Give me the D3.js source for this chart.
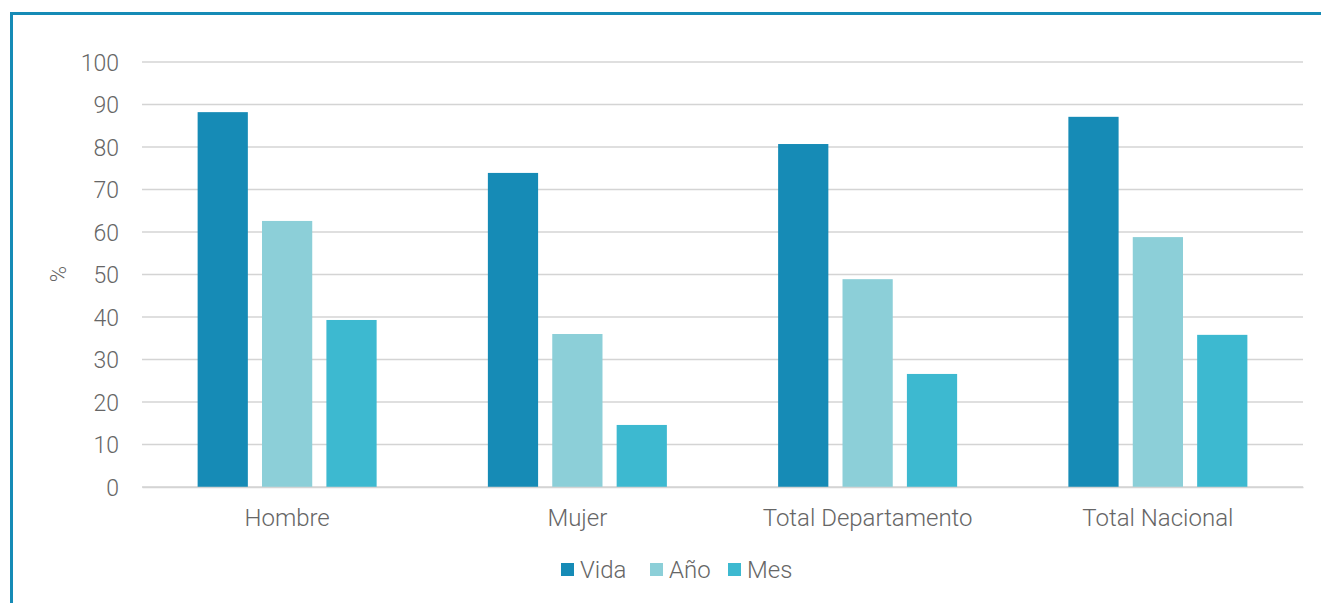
<!DOCTYPE html>
<html><head><meta charset="utf-8">
<script src="https://cdn.jsdelivr.net/npm/d3@7"></script>
<style>
html,body{margin:0;padding:0;background:#fff;}
text{font-family:Roboto,sans-serif;font-weight:300;fill:#666;}
</style></head>
<body>
<svg id="chart" width="1321" height="603"></svg>
<script>
const categories = ["Hombre", "Mujer", "Total Departamento", "Total Nacional"];
const seriesNames = ["Vida", "Año", "Mes"];
const vida = [88.2, 73.9, 80.7, 87.1];
const anio = [62.6, 36.0, 48.9, 58.8];
const mes = [39.3, 14.6, 26.6, 35.8];
const yTicks = [0, 10, 20, 30, 40, 50, 60, 70, 80, 90, 100];
const colors = ["#168bb6", "#8ccfd8", "#3db9d0"];
const seriesValues = [vida, anio, mes];

const svg = d3.select("#chart");
// frame
svg.append("path").attr("d", "M11.5,603 V13.5 H1321")
  .attr("fill", "none").attr("stroke", "#168bb6").attr("stroke-width", 3);

const pLeft = 142, pRight = 1303, pTop = 62, pBottom = 487;
const x = d3.scaleBand().domain(categories).range([pLeft, pRight]);
const y = d3.scaleLinear().domain([0, 100]).range([pBottom, pTop]);
const xs = d3.scaleBand().domain(seriesNames).range([-89.5, 89.5]).paddingInner(0.22);

// grid
svg.append("g").selectAll("line").data(yTicks).join("line")
  .attr("x1", pLeft).attr("x2", pRight)
  .attr("y1", d => y(d)).attr("y2", d => y(d))
  .attr("stroke", "#d4d4d4").attr("stroke-width", 1.5);

// y axis
const ya = svg.append("g").attr("transform", `translate(${pLeft},0)`)
  .call(d3.axisLeft(y).tickValues(yTicks).tickSize(0).tickPadding(23));
ya.select(".domain").remove();
ya.selectAll("text").attr("font-size", 23).attr("dy", "0.35em").style("font-family","Roboto").style("font-weight",300).attr("fill","#666");

// bars
const groups = svg.append("g").selectAll("g").data(categories).join("g")
  .attr("transform", d => `translate(${x(d) + x.bandwidth()/2},0)`);
groups.selectAll("rect").data((c, i) => seriesNames.map((s, j) => ({s, v: seriesValues[j][i], j})))
  .join("rect")
  .attr("x", d => xs(d.s)).attr("width", xs.bandwidth())
  .attr("y", d => y(d.v)).attr("height", d => y(0) - y(d.v))
  .attr("fill", d => colors[d.j]);

// x axis
const xa = svg.append("g").attr("transform", `translate(0,${pBottom})`)
  .call(d3.axisBottom(x).tickSize(0).tickPadding(22));
xa.select(".domain").attr("stroke", "#d4d4d4").attr("stroke-width", 1.5);
xa.selectAll("text").attr("font-size", 24).style("font-family","Roboto").style("font-weight",300).attr("fill","#666");

// y label
svg.append("text").attr("transform", "translate(66,274) rotate(-90)")
  .attr("text-anchor", "middle").attr("font-size", 22).text("%");

// legend
const legX = [561, 650, 728];
const leg = svg.append("g").selectAll("g").data(seriesNames).join("g")
  .attr("transform", (d, i) => `translate(${legX[i]},0)`);
leg.append("rect").attr("x", 0).attr("y", 563).attr("width", 13).attr("height", 13)
  .attr("fill", (d, i) => colors[i]);
leg.append("text").attr("x", 19).attr("y", 578).attr("font-size", 24).text(d => d);
</script>
</body></html>
